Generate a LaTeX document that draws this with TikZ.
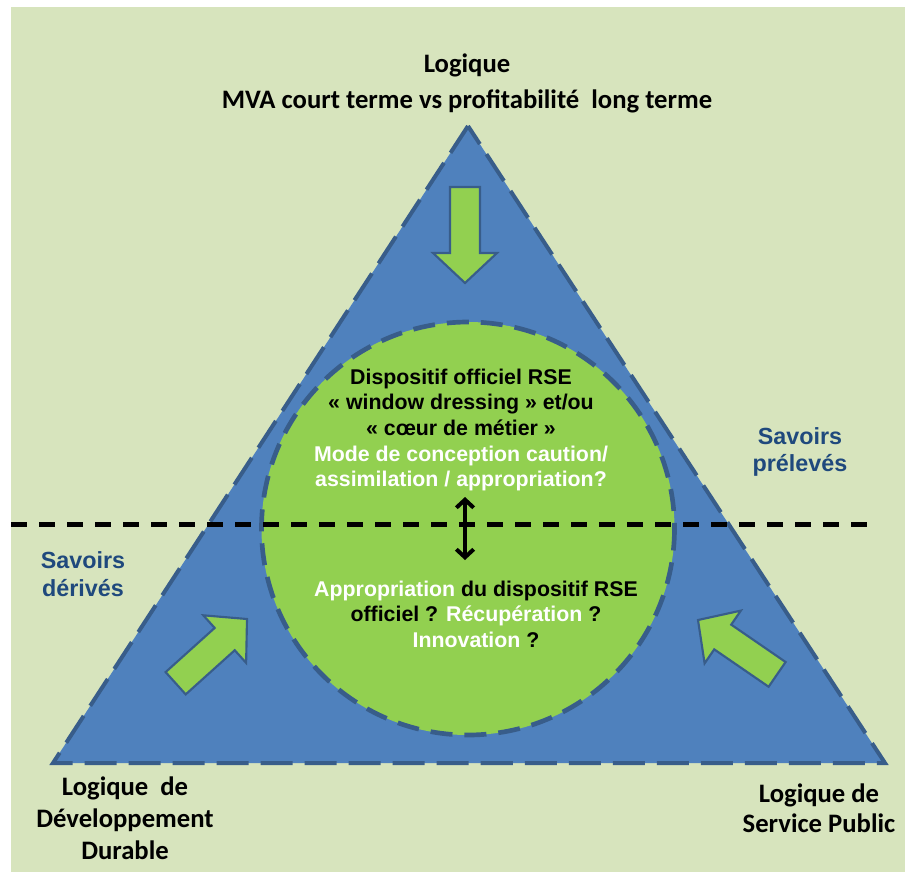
\documentclass[tikz,border=0pt]{standalone}
\usepackage{fontspec}
\usepackage{tikz}
\usetikzlibrary{arrows.meta}
\setmainfont{Carlito}
\newfontfamily\arialfont{Liberation Sans}
\definecolor{fond}{HTML}{D7E4BD}
\definecolor{bleu}{HTML}{4F81BD}
\definecolor{bleufonce}{HTML}{385D8A}
\definecolor{vert}{HTML}{92D050}
\definecolor{savoir}{HTML}{1F497D}

\begin{document}
\begin{tikzpicture}[x=0.75pt, y=-0.75pt,
  logique/.style={font=\fontsize{20}{24}\bfseries\selectfont, align=center},
  savoirs/.style={font=\arialfont\fontsize{17.5}{20.5}\bfseries\selectfont, text=savoir, align=center},
  rse/.style={font=\arialfont\fontsize{16}{19.2}\bfseries\selectfont, align=center},
  arrowbox/.style={fill=vert, draw=bleufonce, line width=1.6pt, line join=miter},
  pics/greenarrow/.style={code={
    \draw[arrowbox] (0,0) -- (-30,32) -- (-30,15) -- (-96,15) -- (-96,-15) -- (-30,-15) -- (-30,-32) -- cycle;}}]
\useasboundingbox (0,0) rectangle (905,872);
\fill[fond] (11,7) rectangle (905,872);

\coordinate (A) at (468,126);
\coordinate (B) at (53,763);
\coordinate (C) at (885,763);
\coordinate (O) at (468,528.5);

% triangle et cercle
\fill[bleu] (A) -- (B) -- (C) -- cycle;
\draw[bleufonce, line width=3pt, dash pattern=on 24pt off 9pt] (A) -- (B) -- (C) -- cycle;
\fill[vert] (O) circle (206.5);
\draw[bleufonce, line width=3.5pt, dash pattern=on 16.5pt off 9pt] (O) circle (206.5);

% fleches
\pic[rotate=-90] at (465,283) {greenarrow};
\pic[rotate=42] at (247,619) {greenarrow};
\pic[rotate=145.5] at (698,620) {greenarrow};

% separation
\coordinate (L) at (11,524);
\coordinate (R) at (868,524);
\draw[line width=3.75pt, dash pattern=on 12pt off 9pt] (L) -- (R);
\coordinate (up) at (465,497);
\coordinate (down) at (465,560);
\draw[line width=3pt, {Straight Barb[length=6pt,width=13pt,line join=miter]}-{Straight Barb[length=6pt,width=13pt,line join=miter]}] (up) -- (down);

% textes
\node[logique, font=\fontsize{20}{27}\bfseries\selectfont] (logtop) at (467,83) {Logique\\MVA court terme vs profitabilité\ \ long terme};
\node[logique] (logdd) at (125,818) {Logique\ \ de\\Développement\\Durable};
\node[logique, font=\fontsize{20}{22.5}\bfseries\selectfont] (logsp) at (819,808) {Logique de\\Service Public};
\node[savoirs] (savpre) at (800,452) {Savoirs\\prélevés};
\node[savoirs] (savder) at (83,574) {Savoirs\\dérivés};
\node[rse] (rsehaut) at (461,430) {Dispositif officiel RSE\\« window dressing » et/ou\\« cœur de métier »\\\textcolor{white}{Mode de conception caution/}\\\textcolor{white}{assimilation / appropriation?}};
\node[rse] (rsebas) at (476,614) {\textcolor{white}{Appropriation} du dispositif RSE\\officiel ? \textcolor{white}{Récupération} ?\\\textcolor{white}{Innovation} ?};
\end{tikzpicture}
\end{document}
